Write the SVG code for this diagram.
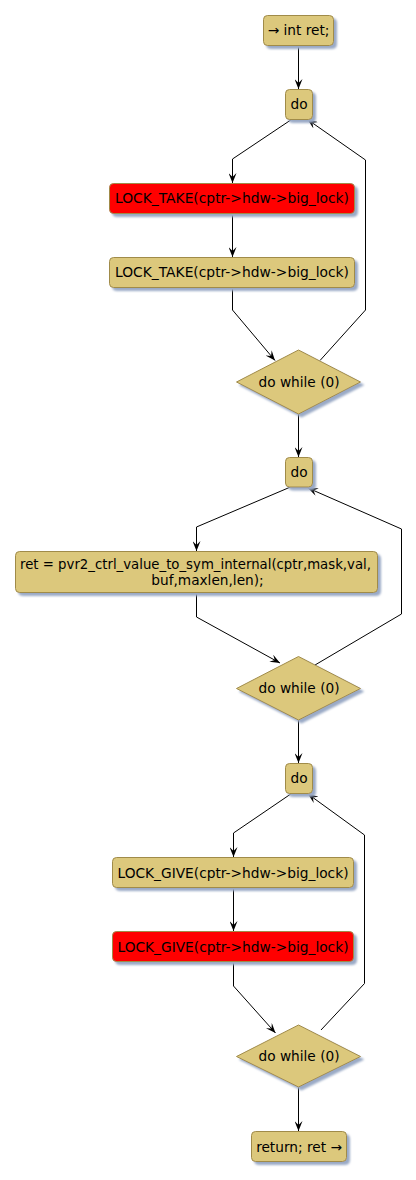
<svg xmlns="http://www.w3.org/2000/svg" width="416" height="1180" viewBox="0 0 416 1180">
<style>
.n{fill:#DCC87C;stroke:#A08B4A;stroke-width:1;filter:url(#sh)}
.r{fill:#FF0000;stroke:#A08B4A;stroke-width:1;filter:url(#sh)}
.t{font-family:"DejaVu Sans",sans-serif;font-size:13.7px;fill:#000;text-anchor:middle}
.e{fill:none;stroke:#000;stroke-width:1;marker-end:url(#ah)}
.l{fill:none;stroke:#000;stroke-width:1}
</style>
<defs>
<filter id="sh" x="-20%" y="-20%" width="140%" height="160%">
<feGaussianBlur in="SourceAlpha" stdDeviation="1"/>
<feOffset dx="3" dy="3" result="o"/>
<feFlood flood-color="#9AAAC6"/>
<feComposite in2="o" operator="in" result="s"/>
<feMerge><feMergeNode in="s"/><feMergeNode in="SourceGraphic"/></feMerge>
</filter>
<marker id="ah" viewBox="0 0 10 8" refX="10" refY="4" markerWidth="10" markerHeight="8" markerUnits="userSpaceOnUse" orient="auto">
<path d="M0,0 L10,4 L0,8 L4,4 Z" fill="#000"/>
</marker>
</defs>
<rect width="416" height="1180" fill="#fff"/>
<g id="connectors">
<path class="e" d="M298.5,45.5 L298.5,89"/>
<path class="e" d="M291.5,119.5 L232.5,159 L232.5,183"/>
<path class="e" d="M232.5,213.5 L232.5,257"/>
<path class="e" d="M232.5,287.5 L232.5,310 L275,360.5"/>
<path class="e" d="M320,360.5 L365.5,310 L365.5,160 L307.5,119.5"/>
<path class="e" d="M298.5,414 L298.5,457"/>
<path class="e" d="M290.5,487 L196.5,527 L196.5,551"/>
<path class="e" d="M196.5,593 L196.5,617 L280,663"/>
<path class="e" d="M315,665 L401.5,614 L401.5,529 L308,488"/>
<path class="e" d="M298.5,720 L298.5,763"/>
<path class="e" d="M291.5,793.5 L233.5,833 L233.5,857"/>
<path class="e" d="M233.5,887.5 L233.5,931"/>
<path class="e" d="M233.5,962 L233.5,986 L275.5,1033"/>
<path class="e" d="M321,1030 L364.5,983.5 L364.5,835 L308,794"/>
<path class="e" d="M298.5,1087 L298.5,1131"/>
</g>
<g id="start">
<rect class="n" x="263.5" y="15.5" width="70" height="30" rx="4"/>
<text class="t" x="298.5" y="35">→ int ret;</text>
</g>
<g id="do1">
<rect class="n" x="285.5" y="89.5" width="27" height="30" rx="4"/>
<text class="t" x="299" y="109">do</text>
</g>
<g id="take1">
<rect class="r" x="109.5" y="183.5" width="245" height="30" rx="4"/>
<text class="t" x="232" y="203" textLength="234" lengthAdjust="spacingAndGlyphs">LOCK_TAKE(cptr-&gt;hdw-&gt;big_lock)</text>
</g>
<g id="take2">
<rect class="n" x="109.5" y="257.5" width="245" height="30" rx="4"/>
<text class="t" x="232" y="277" textLength="234" lengthAdjust="spacingAndGlyphs">LOCK_TAKE(cptr-&gt;hdw-&gt;big_lock)</text>
</g>
<g id="while1">
<polygon class="n" points="298.5,350 360.5,382 298.5,414 236.5,382"/>
<text class="t" x="299" y="386.5">do while (0)</text>
</g>
<g id="do2">
<rect class="n" x="285.5" y="457.5" width="27" height="29.5" rx="4"/>
<text class="t" x="299" y="477">do</text>
</g>
<g id="call">
<rect class="n" x="15.5" y="551.5" width="362" height="41" rx="4"/>
<text class="t" x="195.5" y="569" textLength="351" lengthAdjust="spacingAndGlyphs">ret = pvr2_ctrl_value_to_sym_internal(cptr,mask,val,</text>
<text class="t" x="207.5" y="584.5">buf,maxlen,len);</text>
</g>
<g id="while2">
<polygon class="n" points="298.5,656.5 360.5,688.5 298.5,720 236.5,688.5"/>
<text class="t" x="299" y="692.5">do while (0)</text>
</g>
<g id="do3">
<rect class="n" x="285.5" y="763.5" width="27" height="30" rx="4"/>
<text class="t" x="299" y="783">do</text>
</g>
<g id="give1">
<rect class="n" x="112.5" y="857.5" width="241" height="30" rx="4"/>
<text class="t" x="233" y="877.5" textLength="231" lengthAdjust="spacingAndGlyphs">LOCK_GIVE(cptr-&gt;hdw-&gt;big_lock)</text>
</g>
<g id="give2">
<rect class="r" x="112.5" y="931.5" width="241" height="30" rx="4"/>
<text class="t" x="233" y="951.5" textLength="231" lengthAdjust="spacingAndGlyphs">LOCK_GIVE(cptr-&gt;hdw-&gt;big_lock)</text>
</g>
<g id="while3">
<polygon class="n" points="298.5,1025 360.5,1056.5 298.5,1087 236.5,1056.5"/>
<text class="t" x="299" y="1061">do while (0)</text>
</g>
<g id="end">
<rect class="n" x="251.5" y="1131.5" width="95" height="30" rx="4"/>
<text class="t" x="299" y="1151.5">return; ret →</text>
</g>
</svg>
